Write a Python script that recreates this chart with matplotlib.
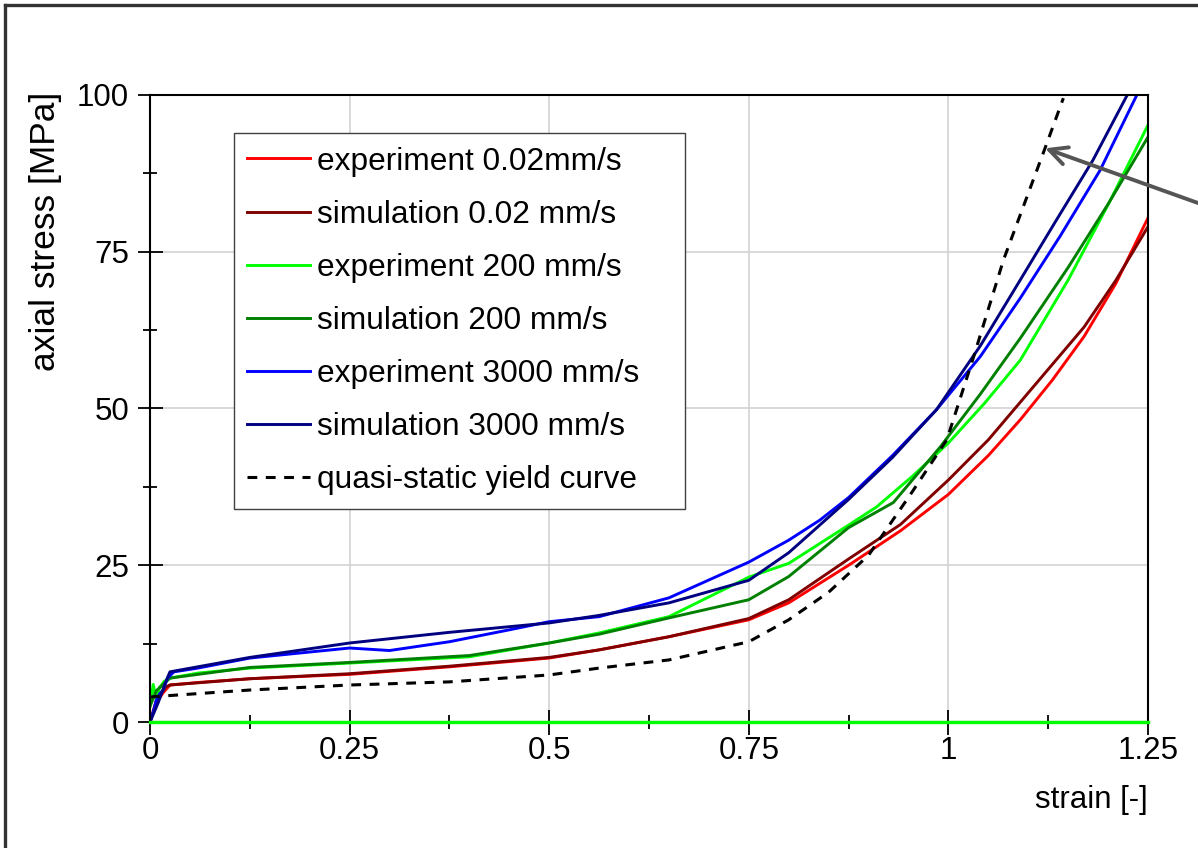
import matplotlib
matplotlib.use("Agg")
import matplotlib.pyplot as plt
from matplotlib.lines import Line2D
from matplotlib.ticker import MultipleLocator, FixedLocator, FixedFormatter

plt.rcParams['font.family'] = ['Liberation Sans', 'DejaVu Sans']

# ---------------- data ----------------
exp_002_strain = [0, 0.008, 0.016, 0.025, 0.06, 0.125, 0.25, 0.375, 0.5, 0.5625, 0.65, 0.75, 0.8, 0.875, 0.94, 1.0, 1.05, 1.09, 1.13, 1.17, 1.21, 1.25]
exp_002_stress = [0, 3.0, 4.6, 5.9, 6.3, 6.9, 7.6, 8.8, 10.2, 11.5, 13.6, 16.3, 19.0, 25.0, 30.5, 36.3, 42.5, 48.2, 54.5, 61.5, 70.0, 80.4]

sim_002_strain = [0, 0.008, 0.02, 0.025, 0.125, 0.25, 0.375, 0.5, 0.5625, 0.65, 0.75, 0.8, 0.875, 0.94, 1.0, 1.05, 1.09, 1.13, 1.17, 1.21, 1.25]
sim_002_stress = [0, 3.5, 5.6, 5.9, 6.9, 7.7, 8.9, 10.3, 11.5, 13.6, 16.5, 19.5, 26.0, 31.5, 38.6, 45.0, 51.0, 57.0, 63.0, 70.5, 79.0]

exp_200_strain = [0, 0.004, 0.008, 0.012, 0.018, 0.025, 0.06, 0.125, 0.25, 0.4, 0.5, 0.5625, 0.65, 0.75, 0.8, 0.875, 0.91, 0.955, 1.0, 1.045, 1.09, 1.15, 1.2, 1.25]
exp_200_stress = [2.5, 6.0, 3.5, 5.5, 6.5, 7.0, 7.8, 8.6, 9.4, 10.4, 12.6, 14.2, 16.8, 23.1, 25.3, 31.4, 34.3, 39.2, 44.5, 50.8, 57.7, 70.5, 82.5, 95.2]

sim_200_strain = [0, 0.008, 0.025, 0.125, 0.25, 0.4, 0.5, 0.5625, 0.65, 0.75, 0.8, 0.875, 0.931, 0.99, 1.04, 1.09, 1.15, 1.2, 1.25]
sim_200_stress = [2.5, 5.0, 7.0, 8.7, 9.5, 10.6, 12.6, 14.0, 16.6, 19.5, 23.2, 31.0, 35.0, 43.9, 52.3, 61.2, 72.5, 82.6, 93.3]

exp_3000_strain = [0, 0.004, 0.008, 0.012, 0.016, 0.022, 0.03, 0.06, 0.125, 0.25, 0.3, 0.375, 0.45, 0.5, 0.5625, 0.65, 0.75, 0.8, 0.839, 0.875, 0.93, 0.985, 1.04, 1.09, 1.14, 1.19, 1.236]
exp_3000_stress = [0, 1.5, 3.5, 4.5, 5.0, 7.0, 8.0, 8.6, 10.2, 11.8, 11.4, 12.8, 14.7, 16.0, 16.8, 19.8, 25.5, 29.0, 32.2, 35.8, 42.5, 49.8, 58.3, 67.6, 77.5, 88.0, 100.0]

sim_3000_strain = [0, 0.01, 0.02, 0.025, 0.125, 0.25, 0.375, 0.5, 0.5625, 0.65, 0.75, 0.8, 0.875, 0.93, 0.985, 1.04, 1.09, 1.135, 1.181, 1.224]
sim_3000_stress = [0, 3.0, 6.5, 8.0, 10.3, 12.6, 14.3, 15.8, 17.0, 19.0, 22.6, 27.0, 35.5, 42.2, 49.8, 60.0, 70.5, 80.0, 89.6, 100.0]

qs_strain = [0, 0.125, 0.25, 0.375, 0.5, 0.5625, 0.65, 0.75, 0.8, 0.85, 0.9, 0.952, 0.998, 1.031, 1.069, 1.121, 1.144]
qs_stress = [4.0, 5.1, 5.9, 6.4, 7.5, 8.6, 9.9, 12.8, 16.3, 20.7, 26.6, 36.2, 45.0, 58.0, 73.7, 91.5, 99.5]

baseline_strain = [0, 1.25]
baseline_stress = [0, 0]

labels = ["experiment 0.02mm/s", "simulation 0.02 mm/s", "experiment 200 mm/s",
          "simulation 200 mm/s", "experiment 3000 mm/s", "simulation 3000 mm/s",
          "quasi-static yield curve"]
x_ticks = [0, 0.25, 0.5, 0.75, 1.0, 1.25]
x_tick_labels = ["0", "0.25", "0.5", "0.75", "1", "1.25"]
y_ticks = [0, 25, 50, 75, 100]
y_tick_labels = ["0", "25", "50", "75", "100"]

# ---------------- figure ----------------
W, H = 1198, 848
fig = plt.figure(figsize=(W / 100, H / 100), dpi=100)
ax = fig.add_axes([150 / W, 1 - 722 / H, 998 / W, 627 / H])

lw = 2.1
ax.plot(exp_002_strain, exp_002_stress, color='#ff0000', lw=lw, label=labels[0])
ax.plot(sim_002_strain, sim_002_stress, color='#800000', lw=lw, label=labels[1])
ax.plot(exp_200_strain, exp_200_stress, color='#00ff00', lw=lw, label=labels[2])
ax.plot(sim_200_strain, sim_200_stress, color='#008000', lw=lw, label=labels[3])
ax.plot(exp_3000_strain, exp_3000_stress, color='#0000ff', lw=lw, label=labels[4])
ax.plot(sim_3000_strain, sim_3000_stress, color='#000080', lw=lw, label=labels[5])
ax.plot(qs_strain, qs_stress, color='black', lw=2.2, ls=(0, (3.2, 2.8)), label=labels[6])
ax.plot(baseline_strain, baseline_stress, color='#00ff00', lw=2.4, clip_on=False, zorder=5)

ax.set_xlim(0, 1.25)
ax.set_ylim(0, 100)
ax.xaxis.set_major_locator(FixedLocator(x_ticks))
ax.xaxis.set_major_formatter(FixedFormatter(x_tick_labels))
ax.yaxis.set_major_locator(FixedLocator(y_ticks))
ax.yaxis.set_major_formatter(FixedFormatter(y_tick_labels))
ax.xaxis.set_minor_locator(MultipleLocator(0.125))
ax.yaxis.set_minor_locator(MultipleLocator(12.5))

ax.grid(True, which='major', color='#d0d0d0', lw=1.1)
ax.set_axisbelow(True)
for s in ax.spines.values():
    s.set_linewidth(1.5)
    s.set_color('black')

ax.tick_params(which='major', direction='inout', length=18, width=1.3, labelsize=22.5, colors='black')
ax.tick_params(which='minor', direction='inout', length=10, width=1.3)
ax.tick_params(axis='x', which='major', pad=1)
ax.tick_params(axis='y', which='major', pad=6)

ax.set_xlabel("strain [-]", fontsize=22.5, loc='right')
ax.xaxis.set_label_coords(1.0, -0.1)
ax.set_ylabel("axial stress [MPa]", fontsize=25.5, loc='top')
ax.yaxis.set_label_coords(-0.088, 1.005)

leg = ax.legend(loc='upper left', bbox_to_anchor=(0.084, 0.0, 0.452, 0.939), mode='expand',
                borderaxespad=0, fontsize=22.8, handlelength=2.0, handletextpad=0.22,
                labelspacing=0.73, borderpad=0.42, fancybox=False, framealpha=1,
                edgecolor='#404040')
leg.get_frame().set_linewidth(1.0)

# arrow pointing at the quasi-static curve
ax.annotate('', xy=(1.121, 91.5), xycoords='data',
            xytext=(1.0, 1 - 203 / H), textcoords='figure fraction',
            arrowprops=dict(arrowstyle='->', color='#555555', lw=2.8, mutation_scale=32,
                            shrinkA=0, shrinkB=0))

# figure frame (left and top edges)
fig.add_artist(Line2D([4.5 / W, 4.5 / W], [0, 1 - 4.5 / H], transform=fig.transFigure,
                      color='#333333', lw=2.4))
fig.add_artist(Line2D([4.5 / W, 1], [1 - 4.5 / H, 1 - 4.5 / H], transform=fig.transFigure,
                      color='#333333', lw=2.4))

fig.savefig("out.png", dpi=100)
